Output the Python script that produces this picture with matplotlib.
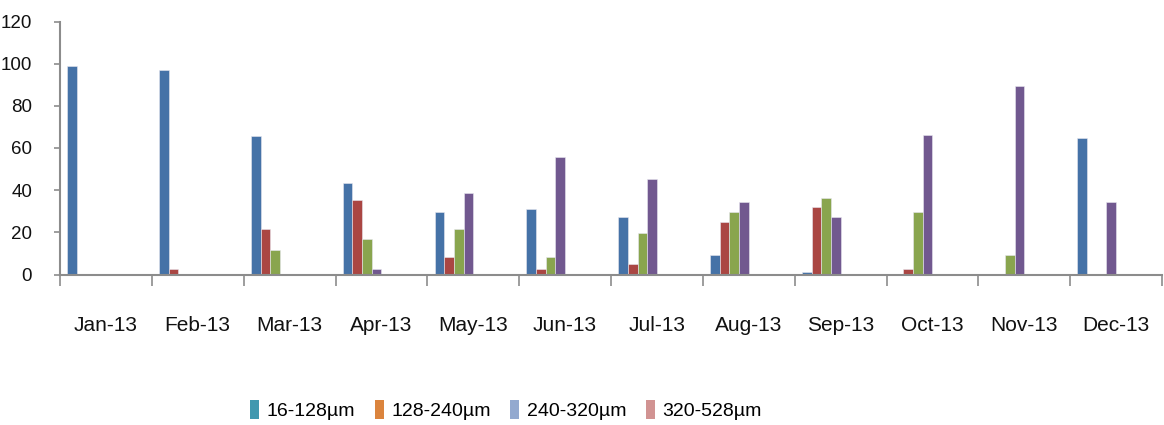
import numpy as np
import matplotlib
matplotlib.use("Agg")
import matplotlib.pyplot as plt

plt.rcParams['font.family'] = ['Liberation Sans', 'DejaVu Sans']

months = ["Jan-13", "Feb-13", "Mar-13", "Apr-13", "May-13", "Jun-13",
          "Jul-13", "Aug-13", "Sep-13", "Oct-13", "Nov-13", "Dec-13"]

# plotted series (unlabelled in the legend)
series_1 = [99, 97, 65.5, 43.5, 29.6, 31.2, 27.1, 9.2, 1.2, 0, 0, 64.8]
series_2 = [0, 2.8, 21.4, 35.3, 8.3, 2.8, 5.1, 24.8, 32.2, 2.6, 0, 0]
series_3 = [0, 0, 11.8, 16.7, 21.4, 8.3, 19.8, 29.6, 36.1, 29.5, 9.1, 0]
series_4 = [0, 0, 0, 2.8, 38.5, 55.9, 45.2, 34.5, 27.1, 66.3, 89.3, 34.5]
plotted_colors = ["#4572A7", "#AA4643", "#89A54E", "#71588F"]

# legend series (no values recorded)
size_classes = ["16-128µm", "128-240µm", "240-320µm", "320-528µm"]
size_class_values = [[0] * 12 for _ in size_classes]
size_class_colors = ["#4198AF", "#DB843D", "#93A9CF", "#D19392"]

fig = plt.figure(figsize=(11.64, 4.25), dpi=100)
ax = fig.add_axes([60 / 1164, 1 - 274.5 / 425, 1102 / 1164, 253 / 425])

n_slots = 8
gap = 1.5
w = 1.0 / (n_slots + gap)
x0 = np.arange(len(months))
start = x0 + gap * w / 2

for i, (vals, c) in enumerate(zip([series_1, series_2, series_3, series_4], plotted_colors)):
    ax.bar(start + i * w, vals, width=w, align='edge', color=c,
           edgecolor='#e8e8f0', linewidth=0.4, zorder=2)

handles = []
for j, (vals, c, lab) in enumerate(zip(size_class_values, size_class_colors, size_classes)):
    b = ax.bar(start + (4 + j) * w, vals, width=w, align='edge', color=c,
               linewidth=0, label=lab, zorder=2)
    handles.append(b)

ax.set_xlim(0, len(months))
ax.set_ylim(0, 120)
ax.set_yticks(np.arange(0, 121, 20))

ax.set_xticks(np.arange(0, len(months) + 1))
ax.set_xticklabels([])
ax.set_xticks(x0 + 0.5, minor=True)
ax.set_xticklabels(months, minor=True, fontsize=15, color='#111111')
ax.tick_params(axis='x', which='major', direction='out', length=8, width=1.2, color='#8c8c8c')
ax.tick_params(axis='x', which='minor', length=0, pad=30)
ax.tick_params(axis='y', direction='out', length=4, width=1.2, color='#8c8c8c',
               labelsize=13.5, labelcolor='#111111', pad=16)

for s in ['top', 'right']:
    ax.spines[s].set_visible(False)
for s in ['left', 'bottom']:
    ax.spines[s].set_color('#8c8c8c')
    ax.spines[s].set_linewidth(1.5)

fig.legend(handles=handles, labels=size_classes, loc='center',
           bbox_to_anchor=(506 / 1164, 1 - 410 / 425), ncol=4, frameon=False,
           fontsize=14, handlelength=0.45, handleheight=1.1, handletextpad=0.4,
           columnspacing=1.0)

fig.savefig("out.png", dpi=100)
